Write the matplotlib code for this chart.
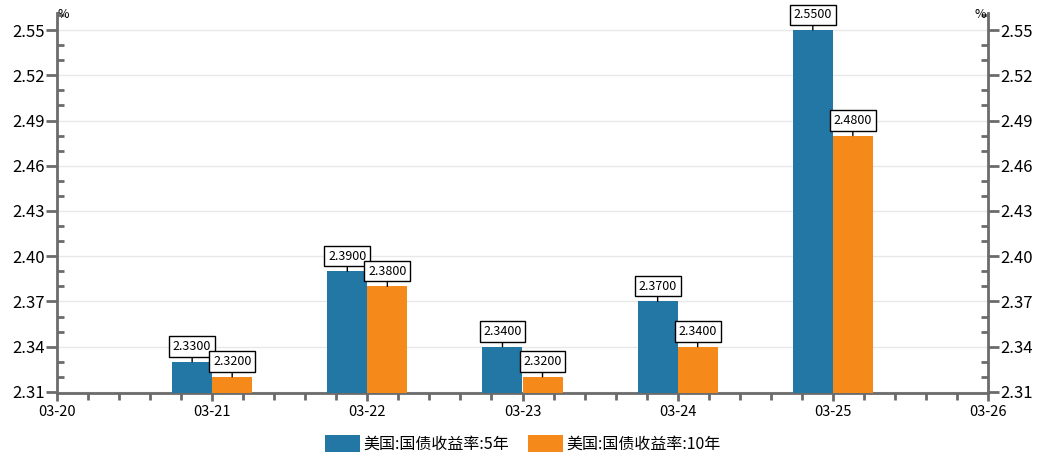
import numpy as np
import matplotlib
matplotlib.use("Agg")
import matplotlib.pyplot as plt
import matplotlib.dates as mdates
from matplotlib.ticker import MultipleLocator, FormatStrFormatter

plt.rcParams["font.family"] = ["Noto Sans CJK SC", "DejaVu Sans"]

# data
dates = ["2025-03-21", "2025-03-22", "2025-03-23", "2025-03-24", "2025-03-25"]
yield_5y = [2.33, 2.39, 2.34, 2.37, 2.55]
yield_10y = [2.32, 2.38, 2.32, 2.34, 2.48]
series_names = ["美国:国债收益率:5年", "美国:国债收益率:10年"]

blue = "#2377a4"
orange = "#f58a1a"
axis_col = "#6b6b6b"

x = mdates.date2num(np.array(dates, dtype="datetime64[D]"))
bw = 0.258
ymin = 2.3093

fig = plt.figure(figsize=(10.38, 4.58), dpi=100)
ax = fig.add_axes([57 / 1038, 1 - 393 / 458, (988 - 57) / 1038, (393 - 13) / 458])

b1 = ax.bar(x - bw / 2, np.array(yield_5y) - ymin, bw, bottom=ymin, color=blue,
            label=series_names[0], zorder=3)
b2 = ax.bar(x + bw / 2, np.array(yield_10y) - ymin, bw, bottom=ymin, color=orange,
            label=series_names[1], zorder=3)

# value labels with a short leader line
for xs, vals in [(x - bw / 2, yield_5y), (x + bw / 2, yield_10y)]:
    for xi, v in zip(xs, vals):
        ax.annotate(f"{v:.4f}", xy=(xi, v), xytext=(0, 11), textcoords="offset points",
                    ha="center", va="center", fontsize=9, zorder=5,
                    bbox=dict(boxstyle="square,pad=0.3", fc="white", ec="black", lw=1),
                    arrowprops=dict(arrowstyle="-", color="black", lw=1,
                                    shrinkA=0, shrinkB=0))

ax.set_xlim(mdates.date2num(np.datetime64("2025-03-20")),
            mdates.date2num(np.datetime64("2025-03-26")))
ax.set_ylim(ymin, 2.5613)

ax.xaxis.set_major_locator(mdates.DayLocator())
ax.xaxis.set_major_formatter(mdates.DateFormatter("%m-%d"))
ax.xaxis.set_minor_locator(MultipleLocator(0.2))
ax.yaxis.set_minor_locator(MultipleLocator(0.01))
ax.yaxis.set_major_formatter(FormatStrFormatter("%.2f"))
ax.set_yticks(np.arange(2.31, 2.5501, 0.03))

ax.grid(axis="y", which="major", color="#e8e8e8", lw=1, zorder=0)
ax.set_axisbelow(True)

for s in ["left", "right", "bottom"]:
    ax.spines[s].set_color(axis_col)
    ax.spines[s].set_linewidth(2)
ax.spines["top"].set_visible(False)

ax.tick_params(axis="y", which="major", direction="out", length=8, width=2,
               color=axis_col, labelsize=12, left=True, right=True,
               labelleft=True, labelright=True, pad=1)
ax.tick_params(axis="y", which="minor", direction="in", length=5, width=2,
               color=axis_col, left=True, right=True)
ax.tick_params(axis="x", which="major", direction="out", length=6, width=2,
               color=axis_col, labelsize=10.5, pad=3)
ax.tick_params(axis="x", which="minor", direction="out", length=5, width=2,
               color=axis_col)

fig.text(58 / 1038, 1 - 14 / 458, "%", fontsize=9, ha="left", va="center")
fig.text(986 / 1038, 1 - 14 / 458, "%", fontsize=9, ha="right", va="center")

fig.legend(handles=[b1, b2], loc="center", bbox_to_anchor=(523 / 1038, 1 - 444 / 458),
           ncol=2, frameon=False, fontsize=11.5, handlelength=2.2, handleheight=1.3,
           handletextpad=0.2, columnspacing=1.2, borderpad=0)

fig.savefig("out.png", dpi=100)
